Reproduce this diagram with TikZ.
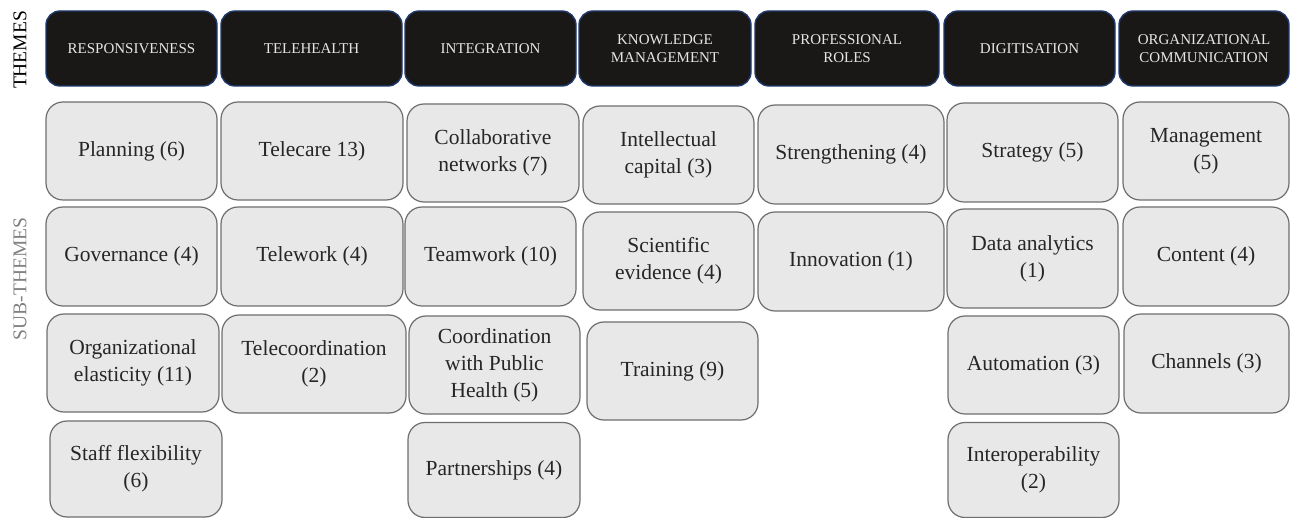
\documentclass[tikz,border=0pt]{standalone}
\usepackage{fontspec}
\setmainfont{Liberation Serif}
\definecolor{themefill}{HTML}{1A1717}
\definecolor{themeline}{HTML}{1F3A6E}
\definecolor{subfill}{HTML}{E8E8E8}
\definecolor{subline}{HTML}{6E6E6E}
\begin{document}
\begin{tikzpicture}[x=1pt, y=-1pt,
    theme/.style={draw=themeline, line width=1.4pt, fill=themefill, rounded corners=14pt,
        text=white!90!black, align=center, inner sep=0pt, minimum height=75pt,
        font=\fontsize{15}{18}\selectfont},
    subtheme/.style={draw=subline, line width=1.2pt, fill=subfill, rounded corners=17pt,
        text=black!85, align=center, inner sep=0pt,
        font=\fontsize{21.5}{27}\selectfont},
    side/.style={rotate=90, font=\fontsize{19.5}{22}\selectfont}]
\useasboundingbox (0,0) rectangle (1290,518);
\node[side] (themes) at (20,50) {THEMES};
\node[side, text=black!50] (subthemes) at (20,279) {SUB-THEMES};
\foreach \i/\x/\w/\txt in {1/131.5/171/RESPONSIVENESS, 2/311.5/181/TELEHEALTH,
    3/490.5/171/INTEGRATION, 4/665/172/{KNOWLEDGE\\MANAGEMENT},
    5/847/184/{PROFESSIONAL\\ROLES}, 6/1029.5/171/DIGITISATION,
    7/1204/170/{ORGANIZATIONAL\\COMMUNICATION}}
{
    \node[theme, minimum width=\w pt] (t\i) at (\x,48.5) {\txt};
}
\node[subtheme, minimum width=171pt, minimum height=98pt] (s11) at (131.5,151) {Planning (6)};
\node[subtheme, minimum width=171pt, minimum height=99pt] (s12) at (131.5,256.5) {Governance (4)};
\node[subtheme, minimum width=172pt, minimum height=98pt] (s13) at (133,363) {Organizational\\elasticity (11)};
\node[subtheme, minimum width=172pt, minimum height=96pt] (s14) at (136,469) {Staff flexibility\\(6)};
\node[subtheme, minimum width=182pt, minimum height=98pt] (s21) at (312,151) {Telecare 13)};
\node[subtheme, minimum width=182pt, minimum height=99pt] (s22) at (312,256.5) {Telework (4)};
\node[subtheme, minimum width=184pt, minimum height=98pt] (s23) at (314,364) {Telecoordination\\(2)};
\node[subtheme, minimum width=172pt, minimum height=98pt] (s31) at (493,153) {Collaborative\\networks (7)};
\node[subtheme, minimum width=171pt, minimum height=99pt] (s32) at (490.5,256.5) {Teamwork (10)};
\node[subtheme, minimum width=171pt, minimum height=98pt] (s33) at (494.5,365) {Coordination\\with Public\\Health (5)};
\node[subtheme, minimum width=172pt, minimum height=95pt] (s34) at (494,470) {Partnerships (4)};
\node[subtheme, minimum width=171pt, minimum height=98pt] (s41) at (668.5,155) {Intellectual\\capital (3)};
\node[subtheme, minimum width=171pt, minimum height=98pt] (s42) at (668.5,261) {Scientific\\evidence (4)};
\node[subtheme, minimum width=171pt, minimum height=98pt] (s43) at (672.5,371) {Training (9)};
\node[subtheme, minimum width=186pt, minimum height=99pt] (s51) at (851,154.5) {Strengthening (4)};
\node[subtheme, minimum width=186pt, minimum height=99pt] (s52) at (851,261.5) {Innovation (1)};
\node[subtheme, minimum width=171pt, minimum height=99pt] (s61) at (1032.5,152.5) {Strategy (5)};
\node[subtheme, minimum width=171pt, minimum height=99pt] (s62) at (1032.5,258.5) {Data analytics\\(1)};
\node[subtheme, minimum width=171pt, minimum height=98pt] (s63) at (1033.5,365) {Automation (3)};
\node[subtheme, minimum width=171pt, minimum height=95pt] (s64) at (1033.5,470) {Interoperability\\(2)};
\node[subtheme, minimum width=166pt, minimum height=98pt] (s71) at (1206,151) {Management\\(5)};
\node[subtheme, minimum width=166pt, minimum height=99pt] (s72) at (1206,256.5) {Content (4)};
\node[subtheme, minimum width=165pt, minimum height=99pt] (s73) at (1206.5,363.5) {Channels (3)};
\end{tikzpicture}
\end{document}
